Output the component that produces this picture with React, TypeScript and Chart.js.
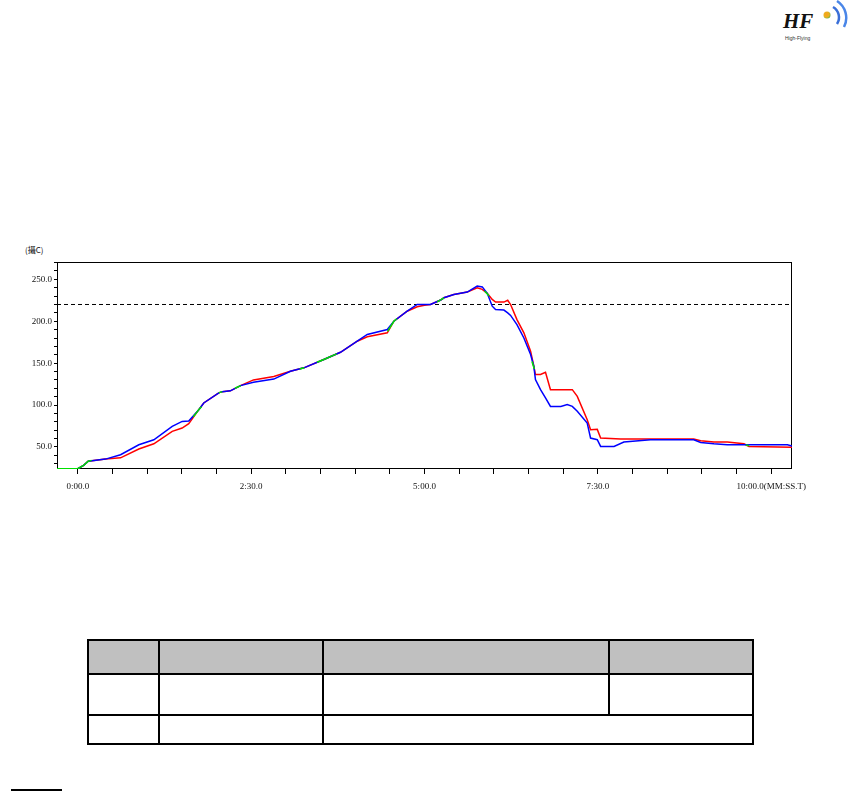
import React, { useEffect, useRef } from "react";
import { Chart, registerables } from "chart.js";

Chart.register(...registerables);

// time in seconds, temperature in °C
const redTime = [-18, 0, 5, 9, 24, 37, 52.8, 65.8, 81.7, 90.3, 96, 104.7, 109, 122, 125, 132, 140.8, 152, 169.6, 184, 195.6, 212.9, 227.3, 241.8, 250.5, 267.8, 273.5, 285, 293.7, 300, 305.2, 314, 316.8, 325.4, 337, 345.6, 350, 354.3, 358.6, 361.5, 368.7, 372, 374.5, 380, 386, 391.8, 394.6, 396, 400.4, 404.7, 409, 427.9, 432.2, 440.8, 443.7, 449.5, 452.4, 469.7, 533, 539, 550.4, 562, 576.4, 580.7, 618];
const redTemp = [24, 24, 28, 33, 35.5, 37, 47.5, 53.8, 68.6, 72.6, 77.8, 94.5, 102.5, 114.5, 116, 117, 123.2, 130, 134, 140.4, 144.4, 154.3, 163, 176.2, 181.4, 186.2, 200, 212, 217.3, 219, 220, 225.3, 228, 232, 234.8, 240, 238, 233.3, 226, 222.9, 222.9, 225, 220, 202, 186.2, 164.2, 146.3, 136.4, 136.4, 139, 118.4, 118.4, 110.4, 82.5, 70.6, 71, 60.6, 59.4, 59.4, 57.4, 55.8, 55.8, 53.8, 50.6, 49.8];

const blueTime = [-18, 0, 5, 9, 24, 37, 52.8, 65.8, 81.7, 90.3, 96, 104.7, 109, 122, 125, 132, 140.8, 152, 169.6, 184, 195.6, 212.9, 227.3, 241.8, 250.5, 267.8, 273.5, 285, 293.7, 305.2, 314, 316.8, 325.4, 337, 345.6, 350, 354.3, 358.6, 361.5, 368.7, 372, 374.5, 380, 386, 391.8, 394.6, 396, 400.4, 404.7, 409, 418, 423.5, 427.9, 432.2, 440.8, 443.7, 449.5, 452.4, 464, 472.5, 495.6, 533, 539, 550.4, 562, 614, 618];
const blueTemp = [24, 24, 28, 33, 35.5, 40.7, 52.6, 58.6, 74.5, 80.5, 81, 94.5, 102.5, 114.5, 116, 117, 123.2, 127.2, 131, 140.4, 144.4, 154.3, 163, 176.2, 184.2, 190.2, 200, 212, 220, 220, 225.3, 228, 232, 234.8, 242, 241, 233.3, 218, 214, 213.3, 210, 207, 196, 180, 160.3, 146.3, 130.4, 118.4, 108.5, 98.4, 98.4, 100.5, 98.4, 92.5, 78.6, 60.6, 58.6, 50.6, 50.6, 55.8, 58.6, 58.6, 55.4, 53.8, 52.6, 52.6, 51];

const greenTime = [-18, 0, 5, 9, 12, 12.5, 100, 104.7, 107, 107.5, 122, 125, 125.5, 136, 141, 141.5, 192, 196, 196.5, 207, 212.9, 224, 224.5, 268, 273.5, 276, 276.5, 311, 316.8, 317, 352, 356, 356.5, 393, 395, 395.5, 578, 581];
const greenTemp = [24, 24, 28, 33, 34, null, 86, 94.5, 98, null, 114.5, 116, null, 120, 123.2, null, 143, 144.6, null, 151, 154.3, 161, null, 188, 200, 203, null, 223, 228, null, 236, 230, null, 152, 143, null, 52.5, 51.5];

const limitTemp = 220;
const xMin = -18;
const xMax = 618;
const yMin = 23.7;
const yMax = 270.7;

const pts = (t: number[], v: (number | null)[]) => t.map((x, i) => ({ x, y: v[i] }));

function fmtTime(v: number): string {
  const m = Math.floor(v / 60);
  const s = Math.round(v - m * 60);
  return `${m}:${s < 10 ? "0" + s : s}.0`;
}

const framePlugin = {
  id: "frame",
  beforeDatasetsDraw(chart: any) {
    const { ctx, chartArea } = chart;
    ctx.save();
    ctx.strokeStyle = "#000";
    ctx.lineWidth = 1;
    ctx.strokeRect(
      Math.round(chartArea.left) + 0.5,
      Math.round(chartArea.top) + 0.5,
      Math.round(chartArea.right - chartArea.left) - 1,
      Math.round(chartArea.bottom - chartArea.top) - 1
    );
    ctx.restore();
  },
};

function TempChart() {
  const ref = useRef<HTMLCanvasElement>(null);
  useEffect(() => {
    if (!ref.current) return;
    const font = { family: "'Liberation Serif', 'DejaVu Serif', serif", size: 9 };
    const chart = new Chart(ref.current, {
      type: "line",
      data: {
        datasets: [
          {
            label: "green",
            data: pts(greenTime, greenTemp),
            borderColor: "#00e000",
            borderWidth: 1.5,
            pointRadius: 0,
            spanGaps: false,
          },
          {
            label: "blue",
            data: pts(blueTime, blueTemp),
            borderColor: "#0000ff",
            borderWidth: 1.5,
            pointRadius: 0,
          },
          {
            label: "red",
            data: pts(redTime, redTemp),
            borderColor: "#ff0000",
            borderWidth: 1.5,
            pointRadius: 0,
          },
          {
            label: "limit",
            data: [
              { x: xMin, y: limitTemp },
              { x: xMax, y: limitTemp },
            ],
            borderColor: "#000",
            borderWidth: 1,
            borderDash: [4, 3],
            pointRadius: 0,
          },
        ],
      },
      options: {
        animation: false,
        responsive: false,
        devicePixelRatio: 1,
        layout: { padding: { left: 0, right: 58, top: 22, bottom: 0 } },
        plugins: { legend: { display: false }, tooltip: { enabled: false } },
        elements: { line: { tension: 0 } },
        scales: {
          x: {
            type: "linear",
            min: xMin,
            max: xMax,
            border: { display: false },
            grid: { display: true, drawOnChartArea: false, drawTicks: true, tickLength: 5, color: "#000" },
            ticks: {
              stepSize: 30,
              includeBounds: false,
              autoSkip: false,
              maxRotation: 0,
              padding: 7,
              color: "#111",
              font,
              callback: (v: any) => {
                const n = Number(v);
                if (Math.abs(n % 150) > 1e-6) return "";
                if (n === 600) return "10:00.0(MM:SS.T)";
                return fmtTime(n);
              },
            },
            afterFit: (s: any) => {
              s.height = 41;
            },
          },
          y: {
            type: "linear",
            min: yMin,
            max: yMax,
            border: { display: false },
            grid: { display: true, drawOnChartArea: false, drawTicks: true, tickLength: 3, color: "#000" },
            ticks: {
              stepSize: 10,
              includeBounds: false,
              autoSkip: false,
              padding: 2,
              color: "#111",
              font,
              callback: (v: any) => {
                const n = Number(v);
                return Math.abs(n % 50) < 1e-6 ? n.toFixed(1) : "";
              },
            },
            afterFit: (s: any) => {
              s.width = 57;
            },
          },
        },
      },
      plugins: [framePlugin],
    } as any);
    return () => chart.destroy();
  }, []);
  return <canvas ref={ref} width={850} height={270} style={{ position: "absolute", left: 0, top: 240, width: 850, height: 270 }} />;
}

const abs = (l: number, t: number, w: number, h: number, extra: any = {}) => ({
  position: "absolute" as const,
  left: l,
  top: t,
  width: w,
  height: h,
  ...extra,
});

function Table() {
  const cols = [88, 159, 323, 753];
  const rows = [640, 674, 715, 744];
  const lines: any[] = [];
  rows.forEach((y, i) => lines.push(<div key={"h" + i} style={abs(88, y - 1, 666, 2, { background: "#000" })} />));
  cols.forEach((x, i) => lines.push(<div key={"v" + i} style={abs(x - 1, 639, 2, 106, { background: "#000" })} />));
  lines.push(<div key="v609" style={abs(608, 639, 2, 77, { background: "#000" })} />);
  return (
    <>
      <div style={abs(88, 640, 665, 34, { background: "#c0c0c0" })} />
      {lines}
    </>
  );
}

function Logo() {
  return (
    <>
      <div style={abs(783, 9, 40, 24, { fontFamily: "'Liberation Serif', serif", fontStyle: "italic", fontWeight: 700, fontSize: 21, color: "#111", lineHeight: "24px" })}>
        HF
      </div>
      <div style={abs(785, 34, 40, 8, { fontFamily: "'Liberation Sans', sans-serif", fontSize: 5, color: "#333", lineHeight: "8px" })}>
        High-Flying
      </div>
      <svg style={abs(816, 0, 34, 34)} width={34} height={34}>
        <defs>
          <radialGradient id="dotg" cx="40%" cy="40%" r="70%">
            <stop offset="0%" stopColor="#f7a31c" />
            <stop offset="60%" stopColor="#e8b020" />
            <stop offset="100%" stopColor="#4caf50" />
          </radialGradient>
        </defs>
        <circle cx={11} cy={15} r={3.5} fill="url(#dotg)" />
        <path d="M 17 7 A 12 12 0 0 1 21 24" stroke="#3a6fd8" strokeWidth={2.5} fill="none" />
        <path d="M 21 1 A 20 20 0 0 1 28 27" stroke="#4a86e8" strokeWidth={2.5} fill="none" />
      </svg>
    </>
  );
}

export default function App() {
  return (
    <div style={abs(0, 0, 850, 791, { background: "#fff", overflow: "hidden" })}>
      <Logo />
      <div style={abs(25, 244, 40, 12, { fontFamily: "'Noto Sans CJK TC', sans-serif", fontSize: 8, color: "#111", lineHeight: "12px", whiteSpace: "nowrap" })}>
        (攝C)
      </div>
      <TempChart />
      <Table />
      <div style={abs(11, 789, 51, 2, { background: "#000" })} />
    </div>
  );
}
